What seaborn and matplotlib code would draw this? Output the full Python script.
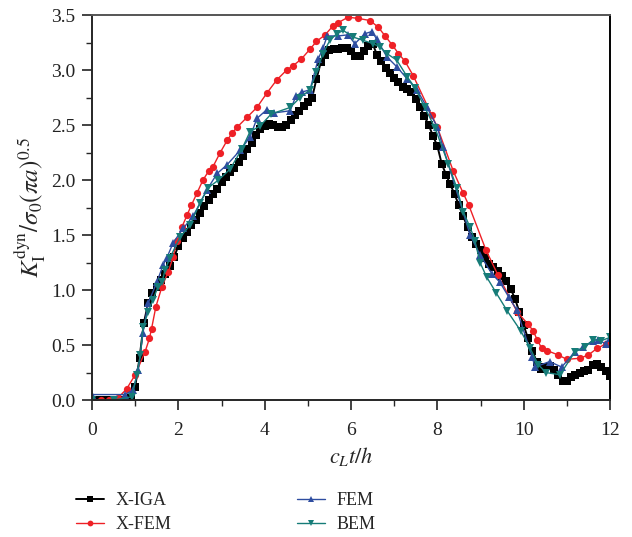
import numpy as np
import pandas as pd
import matplotlib
matplotlib.use("Agg")
import matplotlib.pyplot as plt
from matplotlib.ticker import MultipleLocator
import seaborn as sns

# ---------------- data ----------------
xiga_t = [round(0.1 * i, 1) for i in range(121)]
xiga_k = [0, 0, 0, 0, 0, 0, 0, 0, 0, 0.02,
          0.12, 0.38, 0.70, 0.88, 0.97, 1.03, 1.09, 1.15, 1.22, 1.30,
          1.40, 1.47, 1.53, 1.59, 1.64, 1.70, 1.76, 1.82, 1.87, 1.92,
          1.98, 2.03, 2.07, 2.11, 2.16, 2.22, 2.28, 2.34, 2.41, 2.46,
          2.49, 2.51, 2.50, 2.48, 2.48, 2.50, 2.55, 2.59, 2.63, 2.67,
          2.71, 2.75, 2.92, 3.07, 3.14, 3.18, 3.19, 3.19, 3.20, 3.20,
          3.17, 3.13, 3.13, 3.17, 3.22, 3.24, 3.14, 3.08, 3.02, 2.97,
          2.93, 2.89, 2.85, 2.83, 2.80, 2.74, 2.66, 2.58, 2.50, 2.40,
          2.31, 2.15, 2.05, 1.96, 1.87, 1.77, 1.67, 1.57, 1.48, 1.42,
          1.36, 1.29, 1.24, 1.21, 1.17, 1.13, 1.08, 1.01, 0.92, 0.80,
          0.68, 0.56, 0.45, 0.35, 0.28, 0.30, 0.31, 0.27, 0.23, 0.17,
          0.17, 0.21, 0.23, 0.25, 0.26, 0.27, 0.32, 0.33, 0.30, 0.26,
          0.22]

xfem_t = [0.0, 0.2, 0.4, 0.6, 0.8, 1.0, 1.23, 1.33, 1.38, 1.48, 1.62, 1.76, 1.88,
          1.97, 2.08, 2.2, 2.3, 2.43, 2.57, 2.7, 2.8, 2.97, 3.13, 3.25, 3.36,
          3.59, 3.82, 4.05, 4.28, 4.51, 4.66, 4.85, 5.05, 5.2, 5.4, 5.58, 5.7,
          5.93, 6.16, 6.44, 6.63, 6.79, 6.95, 7.1, 7.25, 7.44, 7.87, 8.0, 8.37,
          8.6, 8.73, 9.13, 9.4, 9.85, 10.1, 10.22, 10.31, 10.42, 10.54, 10.8,
          11.0, 11.3, 11.5, 11.7, 11.9, 12.0]
xfem_k = [0, 0, 0, 0.02, 0.10, 0.23, 0.44, 0.56, 0.65, 0.85, 1.03, 1.16, 1.30,
          1.45, 1.57, 1.68, 1.77, 1.88, 2.00, 2.08, 2.12, 2.25, 2.36, 2.43, 2.48,
          2.57, 2.66, 2.79, 2.91, 3.00, 3.04, 3.10, 3.19, 3.26, 3.32, 3.40, 3.43,
          3.48, 3.47, 3.45, 3.39, 3.31, 3.23, 3.15, 3.08, 2.95, 2.59, 2.48, 2.08,
          1.88, 1.77, 1.36, 1.14, 0.80, 0.69, 0.63, 0.55, 0.47, 0.45, 0.41,
          0.37, 0.38, 0.41, 0.47, 0.51, 0.53]

fem_t = [0.0, 0.76, 0.95, 1.07, 1.18, 1.3, 1.5, 1.65, 1.73, 1.88, 2.11, 2.34, 2.66,
         2.9, 3.13, 3.43, 3.66, 3.82, 4.05, 4.22, 4.59, 4.72, 4.86, 5.05, 5.24,
         5.35, 5.45, 5.7, 5.93, 6.09, 6.32, 6.48, 6.6, 6.83, 7.06, 7.3, 7.53,
         7.76, 8.0, 8.13, 8.76, 8.99, 9.26, 9.45, 9.65, 9.84, 10.2, 10.26, 10.6,
         10.88, 11.19, 11.38, 11.6, 11.72, 11.9, 12.0]
fem_k = [0.05, 0.05, 0.09, 0.27, 0.61, 0.88, 1.07, 1.23, 1.29, 1.43, 1.56, 1.67, 1.91,
         2.06, 2.14, 2.27, 2.39, 2.56, 2.64, 2.61, 2.63, 2.76, 2.80, 2.82, 3.10,
         3.20, 3.31, 3.31, 3.32, 3.24, 3.33, 3.35, 3.28, 3.12, 3.03, 2.92, 2.82,
         2.66, 2.48, 2.30, 1.50, 1.32, 1.15, 1.07, 0.94, 0.82, 0.39, 0.30, 0.35,
         0.30, 0.44, 0.48, 0.54, 0.55, 0.51, 0.56]

bem_t = [0.0, 0.5, 0.92, 1.04, 1.12, 1.18, 1.3, 1.41, 1.53, 1.62, 1.69, 1.8, 2.04,
         2.27, 2.5, 2.69, 2.93, 3.2, 3.47, 3.66, 3.89, 4.15, 4.59, 4.82, 5.05,
         5.2, 5.35, 5.51, 5.67, 5.82, 6.05, 6.28, 6.51, 6.67, 6.83, 7.06, 7.3,
         7.48, 7.71, 7.95, 8.25, 8.45, 8.6, 8.76, 8.87, 8.99, 9.14, 9.37, 9.62,
         9.93, 10.15, 10.34, 10.52, 10.84, 11.19, 11.42, 11.61, 11.8, 12.0]
bem_k = [0, 0, 0.03, 0.23, 0.41, 0.66, 0.80, 0.91, 1.03, 1.07, 1.18, 1.29, 1.48,
         1.59, 1.79, 1.93, 2.00, 2.10, 2.28, 2.44, 2.49, 2.60, 2.66, 2.75, 2.82,
         2.98, 3.15, 3.27, 3.33, 3.36, 3.30, 3.27, 3.24, 3.21, 3.15, 3.09, 2.94,
         2.84, 2.66, 2.47, 2.15, 1.93, 1.71, 1.57, 1.45, 1.25, 1.12, 0.97, 0.81,
         0.63, 0.47, 0.32, 0.25, 0.23, 0.44, 0.48, 0.55, 0.54, 0.57]

x_ticks = [0, 2, 4, 6, 8, 10, 12]
y_ticks = [0.0, 0.5, 1.0, 1.5, 2.0, 2.5, 3.0, 3.5]

# ---------------- style ----------------
sns.set_style("ticks")
plt.rcParams["font.family"] = ["Liberation Serif", "DejaVu Serif"]
plt.rcParams["mathtext.fontset"] = "stix"

fig = plt.figure(figsize=(6.32, 5.37), dpi=100)
ax = fig.add_axes([0.1456, 0.255, 0.8196, 0.717])

series = [
    ("X-IGA", xiga_t, xiga_k, "#000000", "s", 5.5, 1.4),
    ("X-FEM", xfem_t, xfem_k, "#EE2026", "o", 5.2, 1.0),
    ("FEM", fem_t, fem_k, "#2E4DA0", "^", 5.2, 1.0),
    ("BEM", bem_t, bem_k, "#167C78", "v", 5.2, 1.0),
]
for name, t, k, c, m, ms, lw in series:
    df = pd.DataFrame({"t": t, "k": k})
    sns.lineplot(data=df, x="t", y="k", ax=ax, color=c, marker=m,
                 markersize=ms, markeredgewidth=0, linewidth=lw,
                 label=name, legend=False)

ax.set_xlim(0, 12)
ax.set_ylim(0, 3.5)
ax.set_xticks(x_ticks)
ax.set_yticks(y_ticks)
ax.set_yticklabels([f"{v:.1f}" for v in y_ticks])
ax.xaxis.set_minor_locator(MultipleLocator(1))
ax.yaxis.set_minor_locator(MultipleLocator(0.25))
ax.tick_params(axis="both", which="major", direction="out", length=7,
               width=1.2, labelsize=14, colors="#222222", pad=5)
ax.tick_params(axis="x", which="major", pad=9)
ax.tick_params(axis="both", which="minor", direction="out", length=4, width=1.0)
for s in ["top", "right", "left", "bottom"]:
    ax.spines[s].set_visible(True)
    ax.spines[s].set_linewidth(1.4)
ax.spines["top"].set_color("#555555")
ax.spines["right"].set_color("#000000")

ax.set_xlabel(r"$c_L t/h$", fontsize=16, labelpad=4)
ax.set_ylabel(r"$K_{\mathrm{I}}^{\mathrm{dyn}}/\sigma_0(\pi a)^{0.5}$",
              fontsize=18, labelpad=2)

handles, labels = ax.get_legend_handles_labels()
fig.legend(handles, labels,
           loc="upper left", bbox_to_anchor=(0.095, 0.114), ncol=2,
           frameon=False, fontsize=13, handlelength=1.55, handletextpad=0.6,
           columnspacing=7.0, labelspacing=0.4, markerscale=0.8)

fig.savefig("out.png", dpi=100)
